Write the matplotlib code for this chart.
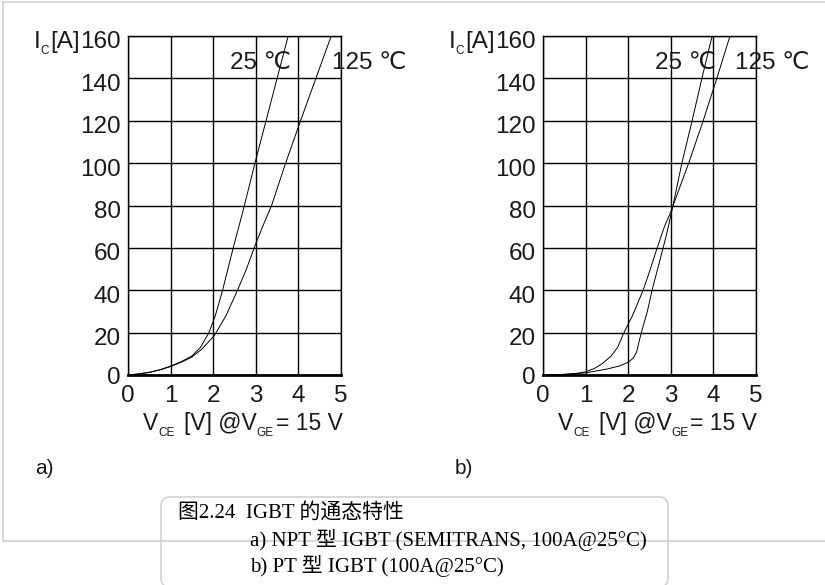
import numpy as np
import matplotlib
matplotlib.use("Agg")
import matplotlib.pyplot as plt
import matplotlib.transforms as mtransforms
from matplotlib.patches import FancyBboxPatch

plt.rcParams['font.family'] = ['Liberation Sans', 'DejaVu Sans']

# NPT IGBT (a)
npt_25_v = [0, 0.25, 0.5, 0.75, 1.0, 1.25, 1.5, 1.7, 1.9, 2.05, 2.22, 2.47, 2.72, 2.98, 3.24, 3.5, 3.76]
npt_25_i = [0, 0.5, 1.3, 2.5, 4.2, 6.3, 9.0, 13.0, 20, 28, 40, 60, 79, 100, 120, 140, 160]
npt_125_v = [0, 0.25, 0.5, 0.75, 1.0, 1.25, 1.5, 1.75, 2.04, 2.3, 2.57, 2.78, 2.98, 3.18, 3.37, 3.7, 4.05, 4.41, 4.77]
npt_125_i = [0, 0.5, 1.2, 2.4, 4.0, 6.0, 8.5, 12.5, 19, 28, 40, 50, 61, 71, 80, 100, 120, 140, 160]

# PT IGBT (b)
pt_25_v = [0, 0.5, 1.0, 1.5, 1.8, 2.0, 2.12, 2.2, 2.27, 2.35, 2.45, 2.56, 2.69, 2.82, 2.92, 3.03, 3.26, 3.5, 3.73, 3.97]
pt_25_i = [0, 0.3, 1.0, 2.8, 4.3, 6.0, 8.0, 11, 17, 23, 30, 40, 50, 60, 68, 78, 100, 120, 140, 160]
pt_125_v = [0, 0.5, 0.8, 1.0, 1.2, 1.4, 1.6, 1.75, 1.9, 2.1, 2.35, 2.52, 2.68, 2.85, 3.0, 3.2, 3.42, 3.76, 4.08, 4.39]
pt_125_i = [0, 0.3, 0.8, 1.5, 3.0, 5.5, 9.0, 13, 20, 28, 40, 50, 60, 70, 77, 88, 100, 120, 140, 160]

x_ticks = [0, 1, 2, 3, 4, 5]
y_ticks = [0, 20, 40, 60, 80, 100, 120, 140, 160]

W, H = 825, 585
fig = plt.figure(figsize=(W / 100, H / 100), dpi=100)
renderer = fig.canvas.get_renderer()

# overlay in pixel coordinates for frame, caption and loose labels
ov = fig.add_axes([0, 0, 1, 1], zorder=0)
ov.set_xlim(0, W); ov.set_ylim(H, 0); ov.axis("off")


def rich(x, y, parts, color="#1a1a1a"):
    """Draw (text, size, drop, gap_before) pieces one after another."""
    for txt, size, drop, gap in parts:
        x += gap
        t = ov.text(x, y + drop, txt, fontsize=size, ha="left", va="baseline", color=color)
        x += t.get_window_extent(renderer).width


frame_c = "#cfcfcf"
ov.plot([3, 3], [2, 541], color=frame_c, lw=1.2)
ov.plot([3, W], [2, 2], color=frame_c, lw=1.2)
ov.plot([3, W], [541, 541], color=frame_c, lw=1.2)
ov.add_patch(FancyBboxPatch((161, 497), 507, 90, boxstyle="round,pad=0,rounding_size=9",
                            fc="white", ec="#d2d2d2", lw=1.2))

cap_font = ['Liberation Serif', 'Noto Sans CJK SC']
ov.text(178, 513, "图2.24  IGBT 的通态特性", family=cap_font, fontsize=15, va="center", ha="left")
ov.text(250, 540, "a) NPT 型 IGBT (SEMITRANS, 100A@25°C)", family=cap_font, fontsize=15, va="center", ha="left")
ov.text(250, 566, "b) PT 型 IGBT (100A@25°C)", family=cap_font, fontsize=15, va="center", ha="left")

panels = [
    (128, npt_25_v, npt_25_i, npt_125_v, npt_125_i, "a)", 35, (2.39, 4.79)),
    (543, pt_25_v, pt_25_i, pt_125_v, pt_125_i, "b)", 455, (2.63, 4.51)),
]

for x0, v25, i25, v125, i125, tag, tag_x, lab_x in panels:
    ax = fig.add_axes([x0 / W, (H - 375) / H, 213 / W, 339 / H], zorder=2)
    ax.set_facecolor("none")
    ax.plot(v25, i25, color="black", lw=0.7)
    ax.plot(v125, i125, color="black", lw=0.7)
    ax.set_xlim(0, 5); ax.set_ylim(0, 160)
    ax.set_xticks(x_ticks); ax.set_yticks(y_ticks)
    ax.grid(True, color="black", lw=1.0)
    ax.tick_params(length=0, labelsize=17.5, colors="#1a1a1a")
    ax.tick_params(axis="x", pad=7)
    ax.tick_params(axis="y", pad=5)
    # y labels sit a few pixels below their grid line in the original
    for lab, val in zip(ax.get_yticklabels(), y_ticks):
        dy = -4 if val > 0 else 0
        lab.set_transform(lab.get_transform() +
                          mtransforms.ScaledTranslation(0, dy / 100, fig.dpi_scale_trans))
    for s in ax.spines.values():
        s.set_linewidth(1.0)
    ax.spines["bottom"].set_linewidth(2.0)
    ax.text(lab_x[0], 144.5, "25 ℃", fontsize=17.5, ha="left", va="baseline", clip_on=False,
            color="#1a1a1a")
    ax.text(lab_x[1], 144.5, "125 ℃", fontsize=17.5, ha="left", va="baseline", clip_on=False,
            color="#1a1a1a")

    # I_C[A] and V_CE [V] @V_GE = 15 V with small, dropped subscripts
    rich(x0 - 94, 48, [("I", 17.5, 0, 0), ("C", 8.5, 6, 0), ("[A]", 17.5, 0, 1)])
    rich(x0 + 15, 430, [("V", 16.5, 0, 0), ("CE", 8.5, 6, 0), ("[V] @V", 16.5, 0, 9),
                        ("GE", 8.5, 6, 0), ("= 15 V", 16.5, 0, 2)])
    ov.text(tag_x, 468, tag, fontsize=15, ha="left", va="center", color="#1a1a1a")

fig.savefig("out.png", dpi=100)
